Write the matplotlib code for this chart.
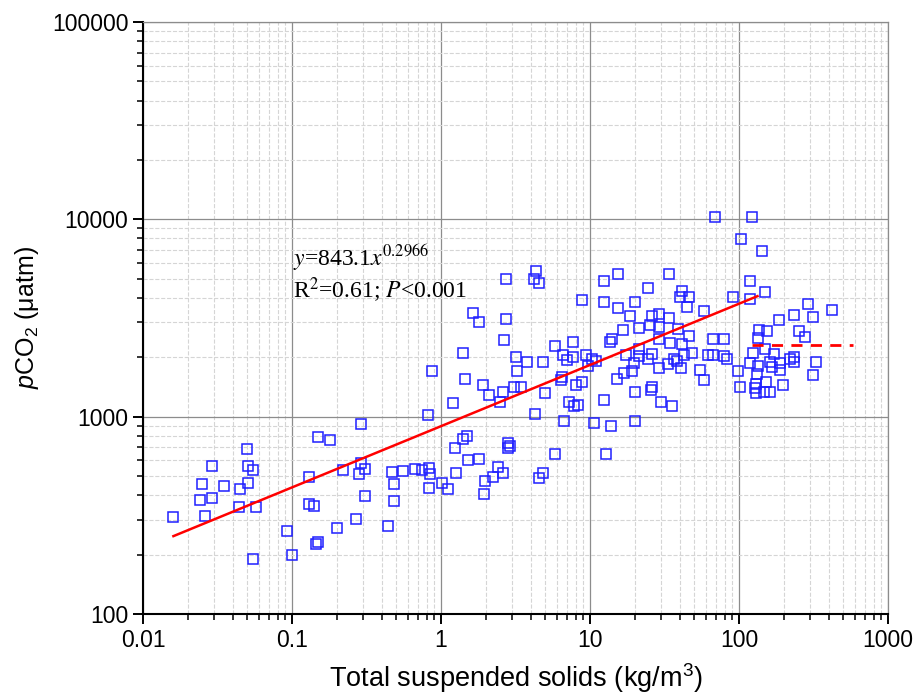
import numpy as np
import matplotlib
matplotlib.use('Agg')
import matplotlib.pyplot as plt
from matplotlib.ticker import LogLocator, FixedLocator, FixedFormatter, NullFormatter

plt.rcParams['font.family'] = ['Liberation Sans', 'DejaVu Sans']
plt.rcParams['mathtext.fontset'] = 'custom'
plt.rcParams['mathtext.rm'] = 'Liberation Sans'
plt.rcParams['mathtext.it'] = 'Liberation Sans:italic'

# Total suspended solids (kg/m3) and pCO2 (uatm)
tss = [0.016, 0.026, 0.024, 0.029, 0.025, 0.029, 0.035, 0.045, 0.050, 0.051,
       0.055, 0.051, 0.044, 0.057, 0.055, 0.092, 0.10, 0.13, 0.131, 0.14,
       0.15, 0.18, 0.144, 0.150, 0.20, 0.22, 0.29, 0.29, 0.28, 0.31,
       0.31, 0.27, 0.47, 0.48, 0.48, 0.56, 0.67, 0.74, 0.83, 0.85,
       0.83, 1.01, 1.11, 0.82, 0.87, 1.2, 1.27, 1.24, 1.40, 1.49,
       1.51, 1.81, 1.97, 1.95, 2.24, 2.40, 2.60, 2.80, 2.90, 2.83,
       1.41, 1.45, 1.63, 1.81, 1.92, 2.09, 2.60, 2.49, 2.73, 2.66,
       2.73, 3.20, 3.76, 3.25, 3.07, 3.43, 69, 4.32, 4.21, 4.57,
       8.80, 12.4, 15.3, 33.7, 24.6, 12.4, 15.5, 20.0, 18.6, 41.3,
       40.4, 46.4, 44.6, 58.2, 25.9, 28.9, 33.9, 21.4, 25.3, 29.2,
       16.7, 39.1, 46.0, 67.2, 13.6, 14.0, 28.9, 34.4, 41.4, 5.82,
       7.65, 4.81, 6.56, 6.97, 7.65, 9.36, 10.3, 10.9, 9.66, 17.4,
       21.4, 21.3, 19.8, 24.6, 26.2, 19.1, 16.9, 15.1, 29.2, 33.2,
       36.6, 38.2, 40.8, 42.7, 48.4, 61.7, 66.6, 54.7, 58.2, 6.46,
       6.36, 8.80, 8.05, 4.97, 7.19, 7.81, 8.35, 4.29, 6.69, 12.5,
       10.6, 13.8, 20.0, 20.0, 26.1, 25.7, 29.8, 35.7, 5.82, 12.9,
       4.86, 4.55, 122, 103, 142, 119, 149, 91.5, 119, 79.3,
       79.3, 82.7, 98, 102, 292, 419, 234, 312, 185, 137,
       153, 135, 254, 277, 149, 125, 172, 234, 234, 220,
       119, 161, 188, 166, 327, 134, 188, 133, 312, 152,
       131, 196, 128, 147, 161, 130, 0.44]

pco2 = [311, 315, 378, 386, 456, 565, 445, 432, 686, 562,
        537, 463, 347, 350, 189, 262, 200, 493, 362, 351,
        787, 764, 227, 231, 272, 537, 915, 581, 511, 543,
        398, 303, 523, 454, 374, 529, 543, 537, 552, 511,
        434, 463, 430, 1020, 1705, 1173, 520, 697, 768, 801,
        601, 611, 474, 404, 493, 558, 517, 733, 713, 692,
        2100, 1550, 3350, 3000, 1440, 1290, 1330, 1180, 3140, 2440,
        4990, 2010, 1890, 1710, 1420, 1415, 10300, 5500, 4990, 4760,
        3890, 4890, 5290, 5300, 4470, 3830, 3560, 3810, 3220, 4320,
        4060, 4040, 3600, 3420, 3250, 3320, 3160, 2820, 2930, 2840,
        2740, 2780, 2550, 2480, 2380, 2460, 2460, 2360, 2340, 2270,
        2400, 1900, 2050, 1930, 2000, 2060, 1970, 1920, 1810, 2050,
        2190, 2020, 1870, 1950, 2080, 1710, 1660, 1550, 1770, 1840,
        1970, 1920, 1770, 2050, 2100, 2060, 2060, 1730, 1540, 1580,
        1540, 1500, 1440, 1310, 1190, 1130, 1140, 1030, 955, 1220,
        933, 897, 951, 1330, 1420, 1360, 1190, 1130, 645, 645,
        520, 491, 10300, 7980, 6890, 4890, 4290, 4030, 3950, 2460,
        2020, 1950, 1700, 1415, 3730, 3460, 3260, 3180, 3080, 2760,
        2710, 2510, 2710, 2520, 2190, 2100, 2080, 2000, 1890, 1960,
        1870, 1890, 1870, 1790, 1890, 1810, 1720, 1650, 1630, 1490,
        1470, 1450, 1390, 1340, 1330, 1310, 279]

# fitted line as drawn in the figure (end points)
fit_x = [0.016, 133]
fit_y = [248, 4080]

# dashed reference level for high TSS
dash_x = [122, 582]
dash_y = [2310, 2310]

fig = plt.figure(figsize=(9.19, 7.0), dpi=100)
ax = fig.add_axes([0.1556, 0.1229, 0.8107, 0.8457])

ax.set_xscale('log')
ax.set_yscale('log')
ax.set_xlim(0.01, 1000)
ax.set_ylim(100, 100000)

ax.plot(tss, pco2, linestyle='none', marker='s', markersize=7.5,
        markerfacecolor='none', markeredgecolor='#1f1fff', markeredgewidth=1.1,
        zorder=3)

ax.plot(fit_x, fit_y, color='#ff0000', lw=1.8, zorder=4)
ax.plot(dash_x, dash_y, color='#ff0000', lw=2, linestyle=(0, (4, 3)), zorder=4)

# grid
ax.grid(True, which='major', color='#8c8c8c', linestyle='-', linewidth=0.9)
ax.grid(True, which='minor', color='#d5d5d5', linestyle='--', linewidth=0.8)
ax.set_axisbelow(True)

xt = [0.01, 0.1, 1, 10, 100, 1000]
xt_labels = ['0.01', '0.1', '1', '10', '100', '1000']
yt = [100, 1000, 10000, 100000]
yt_labels = ['100', '1000', '10000', '100000']
ax.xaxis.set_major_locator(FixedLocator(xt))
ax.xaxis.set_major_formatter(FixedFormatter(xt_labels))
ax.yaxis.set_major_locator(FixedLocator(yt))
ax.yaxis.set_major_formatter(FixedFormatter(yt_labels))
ax.xaxis.set_minor_locator(LogLocator(base=10, subs=np.arange(2, 10), numticks=20))
ax.yaxis.set_minor_locator(LogLocator(base=10, subs=np.arange(2, 10), numticks=20))
ax.xaxis.set_minor_formatter(NullFormatter())
ax.yaxis.set_minor_formatter(NullFormatter())

ax.tick_params(which='major', direction='out', length=7, width=1.4, labelsize=16.5,
               top=False, right=False, colors='black')
ax.tick_params(which='minor', direction='out', length=4, width=1.1,
               top=False, right=False)

for s in ['left', 'bottom']:
    ax.spines[s].set_linewidth(1.5)
    ax.spines[s].set_color('black')
for s in ['top', 'right']:
    ax.spines[s].set_linewidth(0.9)
    ax.spines[s].set_color('#8c8c8c')

ax.set_xlabel('Total suspended solids (kg/m$^3$)', fontsize=19.5, labelpad=7)
ax.set_ylabel('$p$CO$_2$ ($\\mathrm{\\mu}$atm)', fontsize=18, labelpad=8)

serif = ['Liberation Serif', 'DejaVu Serif']
ax.text(0.201, 0.601, r'$\mathit{y}$=843.1$\mathit{x}^{0.2966}$', transform=ax.transAxes,
        fontsize=17, va='center', ha='left', family=serif, math_fontfamily='stix')
ax.text(0.201, 0.547, r'R$^2$=0.61; $\mathit{P}$<0.001', transform=ax.transAxes,
        fontsize=17, va='center', ha='left', family=serif, math_fontfamily='stix')

fig.savefig('out.png', dpi=100)
